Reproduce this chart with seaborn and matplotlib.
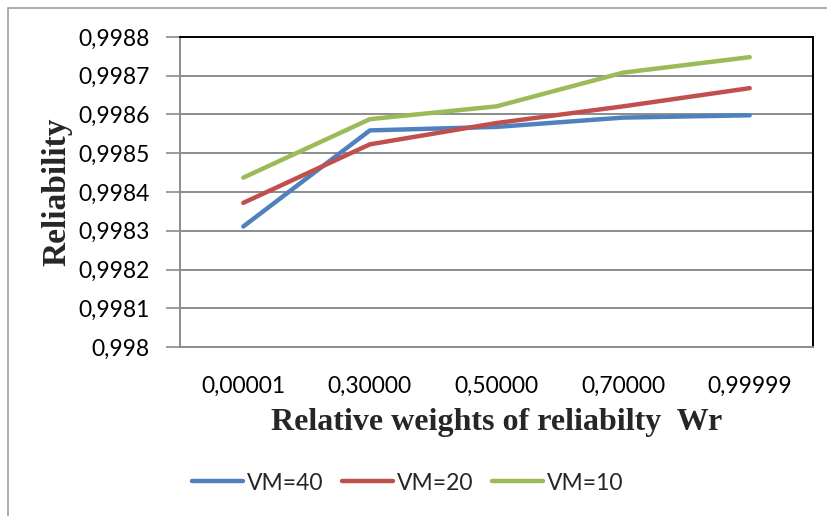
import matplotlib
matplotlib.use("Agg")
import matplotlib.pyplot as plt
import seaborn as sns
import pandas as pd
from matplotlib.patches import Rectangle

categories = ["0,00001", "0,30000", "0,50000", "0,70000", "0,99999"]
vm40 = [0.998311, 0.998559, 0.998568, 0.998592, 0.998598]
vm20 = [0.998372, 0.998523, 0.998578, 0.998621, 0.998668]
vm10 = [0.998437, 0.998588, 0.998621, 0.998708, 0.998748]
series_names = ["VM=40", "VM=20", "VM=10"]
colors = ["#4F81BD", "#C0504D", "#9BBB59"]
y_ticks = [0.998, 0.9981, 0.9982, 0.9983, 0.9984, 0.9985, 0.9986, 0.9987, 0.9988]
y_tick_labels = ["0,998", "0,9981", "0,9982", "0,9983", "0,9984", "0,9985", "0,9986", "0,9987", "0,9988"]

rows = []
for name, vals in zip(series_names, [vm40, vm20, vm10]):
    for c, v in zip(categories, vals):
        rows.append({"Wr": c, "Reliability": v, "series": name})
df = pd.DataFrame(rows)

sns.set_theme(style="white")
plt.rcParams['font.family'] = ['Lato', 'DejaVu Sans']

fig = plt.figure(figsize=(8.27, 5.16), dpi=100)
ax = fig.add_axes([180/827, 1-347/516, (813-180)/827, (347-37)/516])

sns.lineplot(data=df, x="Wr", y="Reliability", hue="series", hue_order=series_names,
             palette=colors, linewidth=3.2, sort=False, ax=ax, legend=True)
for ln in ax.get_lines():
    ln.set_solid_capstyle("round")
    ln.set_solid_joinstyle("round")

ax.set_xlim(-0.5, len(categories) - 0.5)
ax.set_ylim(y_ticks[0], y_ticks[-1])
ax.set_yticks(y_ticks)
ax.set_yticklabels(y_tick_labels)
ax.set_xticks(range(len(categories)))
ax.set_xticklabels(categories)
ax.yaxis.grid(True, color="#8C8C8C", linewidth=1.4)
ax.set_axisbelow(True)

ax.tick_params(axis="y", which="major", direction="out", length=10, width=1.2,
               color="#8C8C8C", labelsize=16.5, pad=12, left=True, labelcolor="black")
ax.tick_params(axis="x", which="major", length=0, labelsize=16.5, pad=21, labelcolor="black")

for s in ["left", "bottom"]:
    ax.spines[s].set_color("#8C8C8C")
    ax.spines[s].set_linewidth(1.4)
for s in ["top", "right"]:
    ax.spines[s].set_color("#000000")
    ax.spines[s].set_linewidth(1.4)
    ax.spines[s].set_visible(True)

ax.set_ylabel("Reliability", family=["Liberation Serif"], fontweight="bold", fontsize=24, labelpad=2)
ax.set_xlabel("Relative weights of reliabilty  Wr", family=["Liberation Serif"], fontweight="bold",
              fontsize=23, labelpad=8)
ax.yaxis.set_label_coords(-108/633, 0.5)

handles, labels = ax.get_legend_handles_labels()
ax.legend(handles, labels, loc="center", bbox_to_anchor=(408/827, 1-483/516),
          bbox_transform=fig.transFigure, ncol=3, frameon=False, fontsize=16.5,
          handlelength=2.2, handletextpad=0.2, columnspacing=0.8)

fig.patches.append(Rectangle((8/827, -0.1), 1.2, 1 - 8/516 + 0.1, transform=fig.transFigure,
                             fill=False, edgecolor="#A0A0A0", linewidth=1.2))

fig.savefig("out.png", dpi=100)
